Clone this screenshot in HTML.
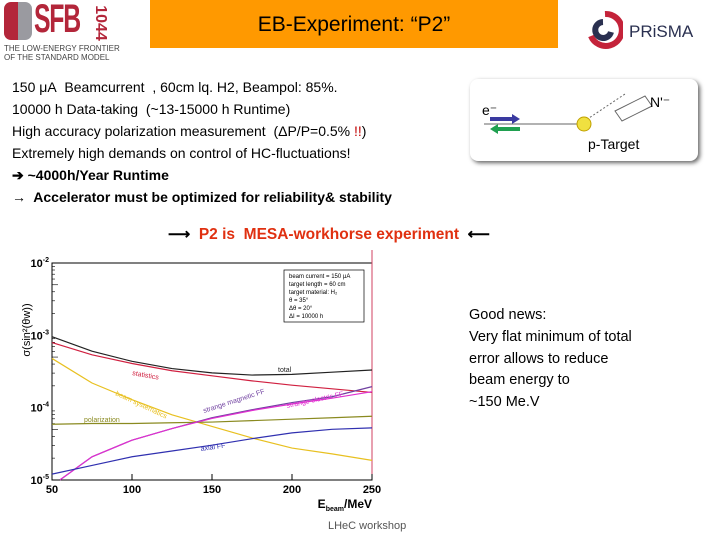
<!DOCTYPE html>
<html><head><meta charset="utf-8">
<style>
body{margin:0;width:720px;height:540px;background:#fff;position:relative;overflow:hidden;font-family:"Liberation Sans",sans-serif}
.abs{position:absolute}
.txt{font-size:14px;line-height:22px;color:#000;white-space:nowrap}
</style></head><body>
<div class="abs" style="left:4px;top:2px;width:110px;height:62px">
  <div class="abs" style="left:0;top:0;width:14px;height:38px;background:#b3263a;border-radius:7px 0 0 7px"></div>
  <div class="abs" style="left:14px;top:0;width:14px;height:38px;background:#9a9aa0;border-radius:0 7px 7px 0"></div>
  <div class="abs" style="left:30px;top:-5px;font:bold 40px 'Liberation Sans',sans-serif;color:#b3263a;letter-spacing:-2px;transform:scaleX(0.62);transform-origin:0 0">SFB</div>
  <div class="abs" style="left:78px;top:12px;font:bold 16px 'Liberation Sans',sans-serif;color:#b3263a;transform:rotate(90deg);transform-origin:center">1044</div>
  <div class="abs" style="left:0;top:42px;font-size:8px;color:#444;line-height:9px;white-space:nowrap">THE LOW-ENERGY FRONTIER<br>OF THE STANDARD MODEL</div>
</div>
<div class="abs" style="left:150px;top:0;width:408px;height:48px;background:#ff9900;text-align:center;line-height:50px;font-size:21px;color:#000">EB-Experiment: “P2”</div>
<div class="abs" style="left:583px;top:10px;width:130px;height:40px">
  <svg width="40" height="40" class="abs" style="left:0;top:0"><path d="M22 4 A16 16 0 1 1 8 26" stroke="#c4233a" stroke-width="6" fill="none"/><path d="M20 12 A8 8 0 1 0 28 22" stroke="#2a3050" stroke-width="6" fill="none"/></svg>
  <div class="abs" style="left:46px;top:12px;font-size:17px;color:#2a3050">PRiSMA</div>
</div>
<div class="abs txt" style="left:12px;top:76px">
150 μA&nbsp; Beamcurrent&nbsp; , 60cm lq. H2, Beampol: 85%.<br>
10000 h Data-taking&nbsp; (~13-15000 h Runtime)<br>
High accuracy polarization measurement&nbsp; (ΔP/P=0.5% <span style="color:#c00000">!!</span>)<br>
Extremely high demands on control of HC-fluctuations!<br>
<b>➔ ~4000h/Year Runtime</b><br>
<b>→&nbsp; Accelerator must be optimized for reliability&amp; stability</b>
</div>
<div class="abs" style="left:470px;top:79px;width:228px;height:82px;border-radius:8px;box-shadow:2px 2px 4px #666;background:#fff">
  <svg width="228" height="82"><line x1="14" y1="45" x2="110" y2="45" stroke="#999" stroke-width="1.5"/><line x1="110" y1="45" x2="155" y2="15" stroke="#666" stroke-dasharray="2,2"/>
  <polygon points="145,32 175,17 182,27 152,42" fill="none" stroke="#666"/>
  <circle cx="114" cy="45" r="7" fill="#f0e040" stroke="#c0a000"/>
  <polygon points="20,38 42,38 42,35 50,40 42,45 42,42 20,42" fill="#3a3aa0"/>
  <polygon points="50,48 28,48 28,45 20,50 28,55 28,52 50,52" fill="#20a050"/>
  <text x="12" y="36" font-size="14" font-family="Liberation Sans">e⁻</text>
  <text x="180" y="28" font-size="14" font-family="Liberation Sans">N'⁻</text>
  <text x="118" y="70" font-size="14" font-family="Liberation Sans">p-Target</text></svg>
</div>
<div class="abs" style="left:168px;top:225px;font-size:15.5px;font-weight:bold;color:#e03010;white-space:nowrap">
<span style="color:#000">⟶</span>&nbsp; P2 is&nbsp; MESA-workhorse experiment&nbsp; <span style="color:#000">⟵</span></div>
<div class="abs txt" style="left:469px;top:305px;font-size:14.5px;line-height:21.8px">Good news:<br>Very flat minimum of total<br>error allows to reduce<br>beam energy to<br>~150 Me.V</div>
<div class="abs" style="left:328px;top:520px;font-size:11px;color:#555">LHeC workshop</div>
<svg class="abs" style="left:0;top:250px" width="400" height="270" id="chart"></svg>
<script>
const energies=[50,75,100,125,150,175,200,225,250];
const totalErr=[-3.02,-3.22,-3.36,-3.46,-3.52,-3.55,-3.54,-3.51,-3.48];
const statErr=[-3.10,-3.27,-3.39,-3.49,-3.56,-3.63,-3.69,-3.74,-3.79];
const beamSys=[-3.32,-3.66,-3.89,-4.10,-4.26,-4.42,-4.56,-4.64,-4.73];
const polErr=[-4.23,-4.22,-4.22,-4.21,-4.20,-4.18,-4.16,-4.14,-4.12];
const strMagE=[55,75,100,125,150,175,200,225,250];
const strMag=[-5.0,-4.68,-4.45,-4.29,-4.14,-4.03,-3.93,-3.85,-3.71];
const strEl=[-5.0,-4.68,-4.45,-4.29,-4.15,-4.04,-3.95,-3.87,-3.78];
const axialFF=[-4.92,-4.80,-4.68,-4.60,-4.52,-4.43,-4.35,-4.30,-4.28];
const xTicks=[50,100,150,200,250];
const yTicks=[-2,-3,-4,-5];
const svg=document.getElementById('chart');const NS='http://www.w3.org/2000/svg';
const X=e=>52+(e-50)/200*320;const Y=l=>13+(-2-l)*72.3;
function mk(t,a){const el=document.createElementNS(NS,t);for(const k in a)el.setAttribute(k,a[k]);svg.appendChild(el);return el;}
const fr=mk('rect',{x:52,y:13,width:320,height:217,fill:'none',stroke:'#000'});


mk('line',{x1:372,y1:0,x2:372,y2:230,stroke:'#d04060'});
xTicks.forEach(t=>{const l=mk('line',{x1:X(t),y1:230,x2:X(t),y2:224,stroke:'#000'});


const tx=mk('text',{x:X(t),y:243,'text-anchor':'middle','font-size':11,'font-weight':'bold','font-family':'Liberation Sans'});tx.textContent=t;

});
yTicks.forEach(t=>{const tx=mk('text',{x:49,y:Y(t)+4,'text-anchor':'end','font-size':11,'font-weight':'bold','font-family':'Liberation Sans'});tx.innerHTML='10<tspan dy="-5" font-size="7">'+t+'</tspan>';


if(t>-5)for(let m=2;m<10;m++){const yy=Y(t-1+Math.log10(m));mk('line',{x1:52,y1:yy,x2:m==5?58:55,y2:yy,stroke:'#000','stroke-width':0.6});}});
const xt=mk('text',{x:372,y:258,'text-anchor':'end','font-size':12,'font-weight':'bold','font-family':'Liberation Sans'});xt.innerHTML='E<tspan font-size="7" dy="3">beam</tspan><tspan dy="-3">/MeV</tspan>';


const yt=mk('text',{x:0,y:0,transform:'translate(30,80) rotate(-90)','text-anchor':'middle','font-size':11,'font-family':'Liberation Sans'});yt.textContent='σ(sin²(θw))';


function series(xs,ys,col,name,lbl,lx,ly,rot){const p=mk('polyline',{points:xs.map((e,i)=>X(e)+','+Y(ys[i])).join(' '),fill:'none',stroke:col,'stroke-width':1.2});


if(lbl){const t=mk('text',{x:lx,y:ly,'font-size':7,fill:col,'font-family':'Liberation Sans',transform:'rotate('+rot+' '+lx+' '+ly+')'});t.textContent=lbl;}}
series(energies,totalErr,'#222','total-line','total',278,122,0);
series(energies,statErr,'#d02040','statistics-line','statistics',132,125,10);
series(energies,beamSys,'#e8c020','beam-systematics-line','beam systematics',115,145,25);
series(energies,polErr,'#8a8a20','polarization-line','polarization',84,172,0);
series(strMagE,strMag,'#7040a0','strange-magnetic-line','strange magnetic FF',204,163,-18);
series(strMagE,strEl,'#e030d0','strange-electric-line','strange electric FF',287,158,-12);
series(energies,axialFF,'#3030b0','axial-ff-line','axial FF',201,201,-8);
const lb=mk('rect',{x:284,y:20,width:80,height:52,fill:'#fff',stroke:'#000','stroke-width':0.7});


['beam current = 150 μA','target length = 60 cm','target material: H₂','  θ = 35°','Δθ = 20°',' ΔI = 10000 h'].forEach((s,i)=>{const t=mk('text',{x:289,y:28+i*8,'font-size':6,'font-family':'Liberation Sans'});t.textContent=s;});
</script>
</body></html>
